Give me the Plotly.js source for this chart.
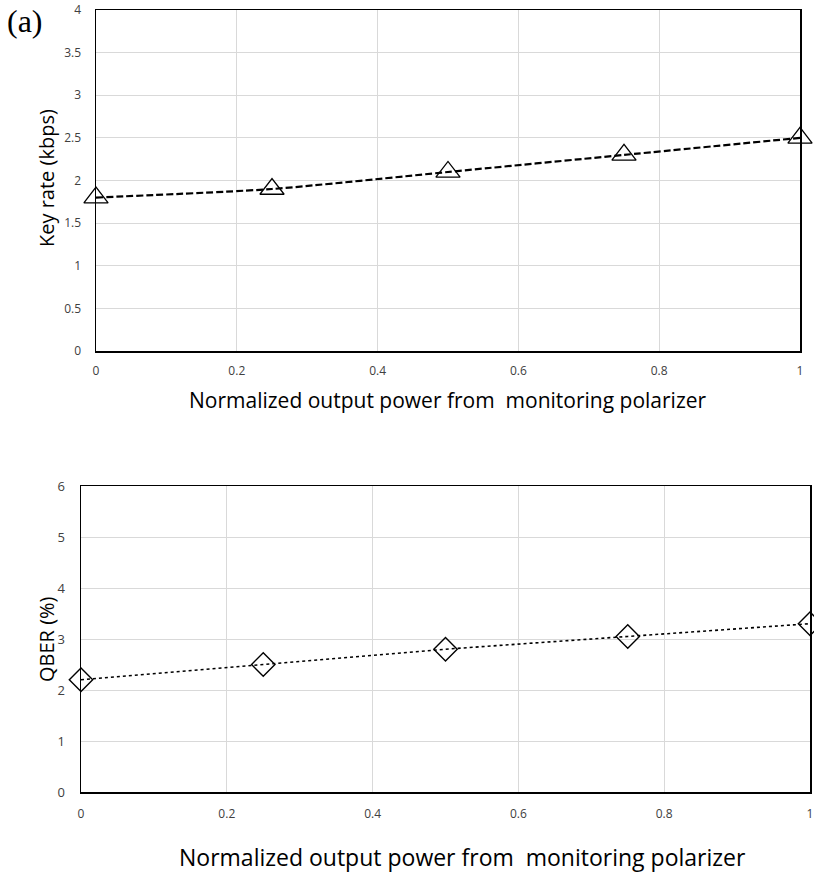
<!DOCTYPE html>
<html><head><meta charset="utf-8">
<script src="https://cdn.plot.ly/plotly-3.0.1.min.js"></script>
<style>body{margin:0;background:#fff}#c{width:814px;height:875px}</style>
</head><body><div id="c"></div>
<script>
const power = [0, 0.25, 0.5, 0.75, 1];
const keyRate = [1.8, 1.9, 2.1, 2.3, 2.5];
const qber = [2.2, 2.5, 2.8, 3.05, 3.3];
const xTicks = [0, 0.2, 0.4, 0.6, 0.8, 1];
const xTickText = ['0', '0.2', '0.4', '0.6', '0.8', '1'];
const keyTicks = [0, 0.5, 1, 1.5, 2, 2.5, 3, 3.5, 4];
const qberTicks = [0, 1, 2, 3, 4, 5, 6];
const xTitle = 'Normalized output power from  monitoring polarizer';

const W = 814, H = 875;
const fam = 'Open Sans, Liberation Sans, sans-serif';
const tickFont = {family: fam, size: 12, color: '#404040'};
function tf(s) { return {family: fam, size: s, color: '#000'}; }

const traces = [
  {x: power, y: keyRate, xaxis: 'x', yaxis: 'y', mode: 'lines+markers', type: 'scatter',
   line: {color: '#000', width: 2.2, dash: '7px,3px', shape: 'spline', smoothing: 0.6},
   marker: {symbol: 'triangle-up-open', size: 21, color: '#000', line: {width: 1.3, color: '#000'}},
   cliponaxis: false, hoverinfo: 'skip'},
  {x: power, y: qber, xaxis: 'x2', yaxis: 'y2', mode: 'lines+markers', type: 'scatter',
   line: {color: '#000', width: 1.6, dash: 'dot'},
   marker: {symbol: 'diamond-open', size: 18, color: '#000', line: {width: 1.4, color: '#000'}},
   cliponaxis: false, hoverinfo: 'skip'}
];

function ax(domain, extra) {
  return Object.assign({
    domain: domain, showgrid: true, gridcolor: '#d9d9d9', gridwidth: 1,
    zeroline: false, showline: true, linecolor: '#000', linewidth: 1.5, mirror: true,
    ticks: '', tickfont: tickFont, fixedrange: true
  }, extra);
}

const layout = {
  width: W, height: H, margin: {l: 0, r: 0, t: 0, b: 0},
  paper_bgcolor: '#fff', plot_bgcolor: '#fff', showlegend: false,
  xaxis: ax([96 / W, 800 / W], {range: [0, 1], tickvals: xTicks, ticktext: xTickText, anchor: 'y', ticklabelstandoff: 8}),
  yaxis: ax([1 - 351 / H, 1 - 10 / H], {range: [0, 4], tickvals: keyTicks, anchor: 'x', ticklabelstandoff: 11}),
  xaxis2: ax([81 / W, 810 / W], {range: [0, 1], tickvals: xTicks, ticktext: xTickText, anchor: 'y2', ticklabelstandoff: 10}),
  yaxis2: ax([1 - 792 / H, 1 - 486 / H], {range: [0, 6], tickvals: qberTicks, anchor: 'x2', ticklabelstandoff: 12,
    tickfont: {family: fam, size: 13, color: '#404040'}}),
  annotations: [
    {text: '(a)', x: 5 / W, y: 1 - 21 / H, xref: 'paper', yref: 'paper', xanchor: 'left', yanchor: 'middle', showarrow: false,
     font: {family: 'Liberation Serif, DejaVu Serif, serif', size: 32, color: '#000'}},
    {text: xTitle, x: 448 / W, y: 1 - 400 / H, xref: 'paper', yref: 'paper', xanchor: 'center', yanchor: 'middle', showarrow: false, font: tf(21)},
    {text: 'Key rate (kbps)', x: 47 / W, y: 1 - 178 / H, xref: 'paper', yref: 'paper', xanchor: 'center', yanchor: 'middle', showarrow: false, textangle: -90, font: tf(20)},
    {text: xTitle, x: 462 / W, y: 1 - 857 / H, xref: 'paper', yref: 'paper', xanchor: 'center', yanchor: 'middle', showarrow: false, font: tf(23)},
    {text: 'QBER (%)', x: 46 / W, y: 1 - 639 / H, xref: 'paper', yref: 'paper', xanchor: 'center', yanchor: 'middle', showarrow: false, textangle: -90, font: tf(20)}
  ]
};

Plotly.newPlot('c', traces, layout, {staticPlot: true, displayModeBar: false});
</script></body></html>
